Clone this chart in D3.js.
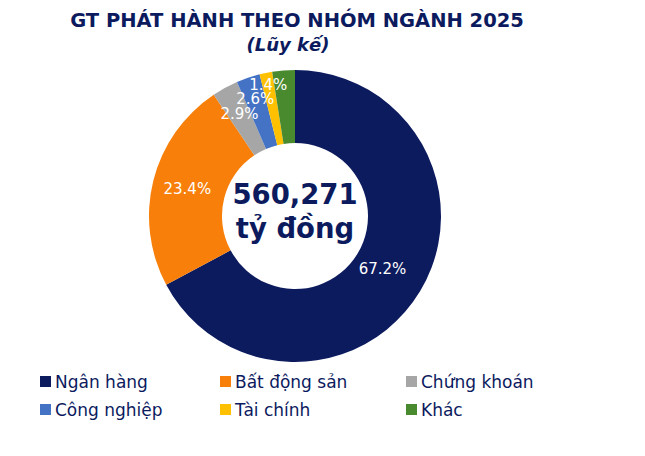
<!DOCTYPE html><html><head><meta charset="utf-8"><script src="https://cdn.jsdelivr.net/npm/d3@7"></script>
<style>body{margin:0;background:#fff}text{font-family:"DejaVu Sans",sans-serif}</style></head><body><svg id="c" width="645" height="456"></svg>
<script>
const categories=["Ngân hàng","Bất động sản","Chứng khoán","Công nghiệp","Tài chính","Khác"];
const values=[67.2,23.4,2.9,2.6,1.4,2.5];
const labels=["67.2%","23.4%","2.9%","2.6%","1.4%",""];
const labelR=[102,111,116,124,134,120];
const colors=["#0c1a5e","#f77f0a","#a6a6a6","#4472c4","#ffc000","#4a8a2e"];
const svg=d3.select("#c");
const navy="#0c1a5e";
svg.append("text").attr("x",297).attr("y",27).attr("text-anchor","middle").attr("font-size",19.5).attr("font-weight","bold").attr("fill",navy).text("GT PHÁT HÀNH THEO NHÓM NGÀNH 2025");
svg.append("text").attr("x",288).attr("y",51).attr("text-anchor","middle").attr("font-size",18).attr("font-weight","bold").attr("font-style","italic").attr("fill",navy).text("(Lũy kế)");
const g=svg.append("g").attr("transform","translate(295,216)");
const pie=d3.pie().sort(null)(values);
const arc=d3.arc().innerRadius(73).outerRadius(146);
g.selectAll("path").data(pie).join("path").attr("d",arc).attr("fill",(d,i)=>colors[i]);
g.selectAll("text.l").data(pie).join("text").attr("class","l").attr("transform",(d,i)=>`translate(${d3.arc().innerRadius(labelR[i]).outerRadius(labelR[i]).centroid(d)})`)
 .attr("text-anchor","middle").attr("dy","0.35em").attr("font-size",15).attr("fill","#fff").text((d,i)=>labels[i]);
g.append("text").attr("y",-12).attr("text-anchor","middle").attr("font-size",27.5).attr("font-weight","bold").attr("fill",navy).text("560,271");
g.append("text").attr("y",22).attr("text-anchor","middle").attr("font-size",27.5).attr("font-weight","bold").attr("fill",navy).text("tỷ đồng");
const lx=[40,220,406],ly=[382,410];
categories.forEach((c,i)=>{const x=lx[i%3],y=ly[Math.floor(i/3)];
 svg.append("rect").attr("x",x).attr("y",y-6).attr("width",11).attr("height",11).attr("fill",colors[i]);
 svg.append("text").attr("x",x+15).attr("y",y).attr("dy","0.35em").attr("font-size",17).attr("fill",navy).text(c);});
</script></body></html>
